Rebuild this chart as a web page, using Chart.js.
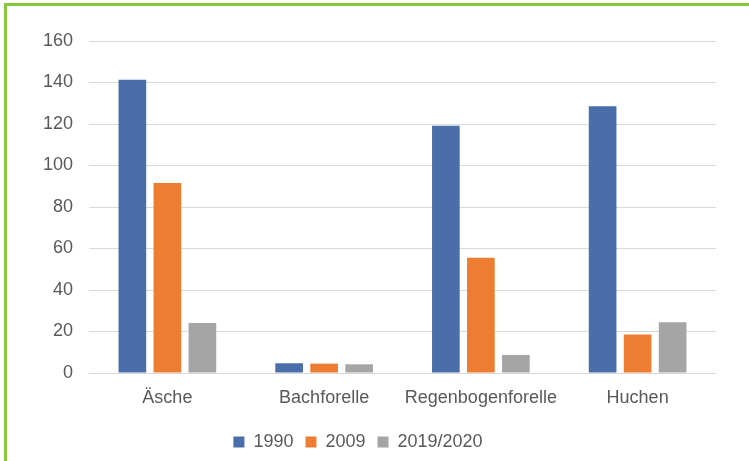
<!DOCTYPE html>
<html>
<head>
<meta charset="utf-8">
<script src="https://cdn.jsdelivr.net/npm/chart.js@4"></script>
<style>
  html, body { margin: 0; padding: 0; background: #fff; }
  #wrap { position: relative; width: 749px; height: 461px; overflow: hidden; }
  #frame { position: absolute; left: 4px; top: 3px; width: 760px; height: 480px;
           border-left: 3px solid #8cc63e; border-top: 3px solid #8cc63e; box-sizing: border-box; }
  canvas { position: absolute; left: 0; top: 0; }
</style>
</head>
<body>
<div id="wrap">
  <div id="frame"></div>
  <canvas id="chart" width="749" height="461"></canvas>
</div>
<script>
// categories and series
const fish = ['Äsche', 'Bachforelle', 'Regenbogenforelle', 'Huchen'];
const v1990 = [141.3, 4.7, 119.2, 128.5];
const v2009 = [91.6, 4.5, 55.6, 18.6];
const v2019 = [24.1, 4.2, 8.7, 24.4];
const seriesNames = ['1990', '2009', '2019/2020'];

const font = { family: 'Liberation Sans, Arial, sans-serif', size: 18 };
const textColor = '#595959';

new Chart(document.getElementById('chart'), {
    type: 'bar',
    data: {
        labels: fish,
        datasets: [
            { label: seriesNames[0], data: v1990, backgroundColor: '#4a6ea9' },
            { label: seriesNames[1], data: v2009, backgroundColor: '#ed7d31' },
            { label: seriesNames[2], data: v2019, backgroundColor: '#a5a5a5' }
        ]
    },
    options: {
        responsive: false,
        animation: false,
        categoryPercentage: 0.67,
        barPercentage: 0.79,
        layout: { padding: { left: 0, right: 33, top: 41, bottom: 0 } },
        plugins: {
            tooltip: { enabled: false },
            legend: {
                position: 'bottom',
                labels: {
                    color: textColor,
                    font: font,
                    boxWidth: 11,
                    boxHeight: 11,
                    padding: 12
                }
            }
        },
        scales: {
            y: {
                min: 0,
                max: 160,
                afterFit: (s) => { s.width = 89; },
                ticks: { stepSize: 20, color: textColor, font: font, padding: 16 },
                grid: { color: '#d9d9d9', drawTicks: false },
                border: { display: false }
            },
            x: {
                afterFit: (s) => { s.height = 48; },
                ticks: { color: textColor, font: font, padding: 14,
                         maxRotation: 0, minRotation: 0, autoSkip: false },
                grid: { display: false, drawTicks: false },
                border: { display: false }
            }
        }
    }
});
</script>
</body>
</html>
